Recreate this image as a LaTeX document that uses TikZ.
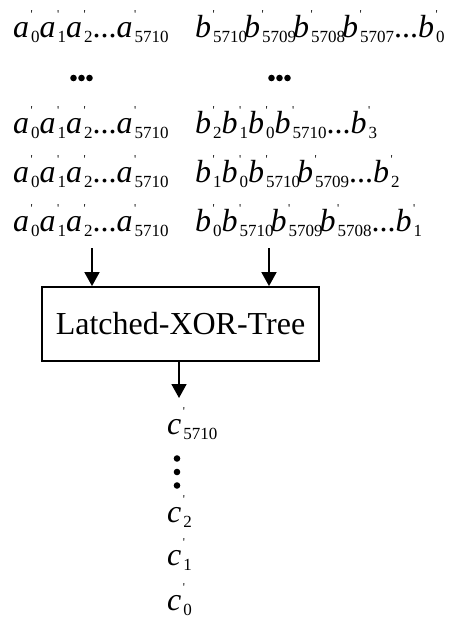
\documentclass[tikz,border=0pt]{standalone}
\usepackage{fontspec}
\setmainfont{Liberation Serif}
\usetikzlibrary{arrows.meta}
\newcommand\pv[2]{\textit{#1}\kern2pt\rlap{\kern-0.5pt\raisebox{18.5pt}{\fontsize{12}{12}\selectfont\textquotesingle}}\raisebox{-5.5pt}{\fontsize{17}{17}\selectfont #2}}
\newcommand\pw[2]{\pv{#1}{#2}\kern-3pt}
\tikzset{
  seq/.style={inner sep=0pt, anchor=base west, font=\fontsize{32}{32}\selectfont},
  bigdot/.style={fill=black, draw=none},
  blk/.style={draw, line width=1.8pt, minimum width=277pt, minimum height=74pt, inner sep=0pt, font=\fontsize{32}{32}\selectfont},
  arr/.style={line width=1.8pt, -{Triangle[length=14pt,width=15pt]}}
}
\begin{document}
\begin{tikzpicture}[x=1pt,y=-1pt]
\useasboundingbox (0,0) rectangle (449,621);
% left column
\node[seq] (a1) at (13,37) {\pv a0\pv a1\pv a2...\pv a{5710}};
\node[seq] (a2) at (13,133) {\pv a0\pv a1\pv a2...\pv a{5710}};
\node[seq] (a3) at (13,182) {\pv a0\pv a1\pv a2...\pv a{5710}};
\node[seq] (a4) at (13,231) {\pv a0\pv a1\pv a2...\pv a{5710}};
% right column
\node[seq] (b1) at (195,37) {\pw b{5710}\pw b{5709}\pw b{5708}\pv b{5707}...\pv b0};
\node[seq] (b2) at (195,133) {\pv b2\pv b1\pv b0\pv b{5710}...\pv b3};
\node[seq] (b3) at (195,182) {\pv b1\pv b0\pw b{5710}\pv b{5709}...\pv b2};
\node[seq] (b4) at (195,231) {\pv b0\pw b{5710}\pw b{5709}\pv b{5708}...\pv b1};
% dots
\foreach \x in {73.5,81.5,89.5} \fill[bigdot] (\x,78) circle (3.3);
\foreach \x in {271.5,279.5,287.5} \fill[bigdot] (\x,78) circle (3.3);
% block
\node[blk] (box) at (180.5,324) {Latched-XOR-Tree};
\coordinate (inL) at (92,248);
\coordinate (inR) at (269,248);
\draw[arr] (inL) -- (inL |- box.north);
\draw[arr] (inR) -- (inR |- box.north);
\coordinate (out) at (179,398);
\draw[arr] (out |- box.south) -- (out);
% outputs
\node[seq] (c5710) at (167,434) {\pv c{5710}};
\foreach \y in {458.5,472,485.5} \fill[bigdot] (177,\y) circle (3.3);
\node[seq] (c2) at (167,522) {\pv c2};
\node[seq] (c1) at (167,565) {\pv c1};
\node[seq] (c0) at (167,610) {\pv c0};
\end{tikzpicture}
\end{document}
